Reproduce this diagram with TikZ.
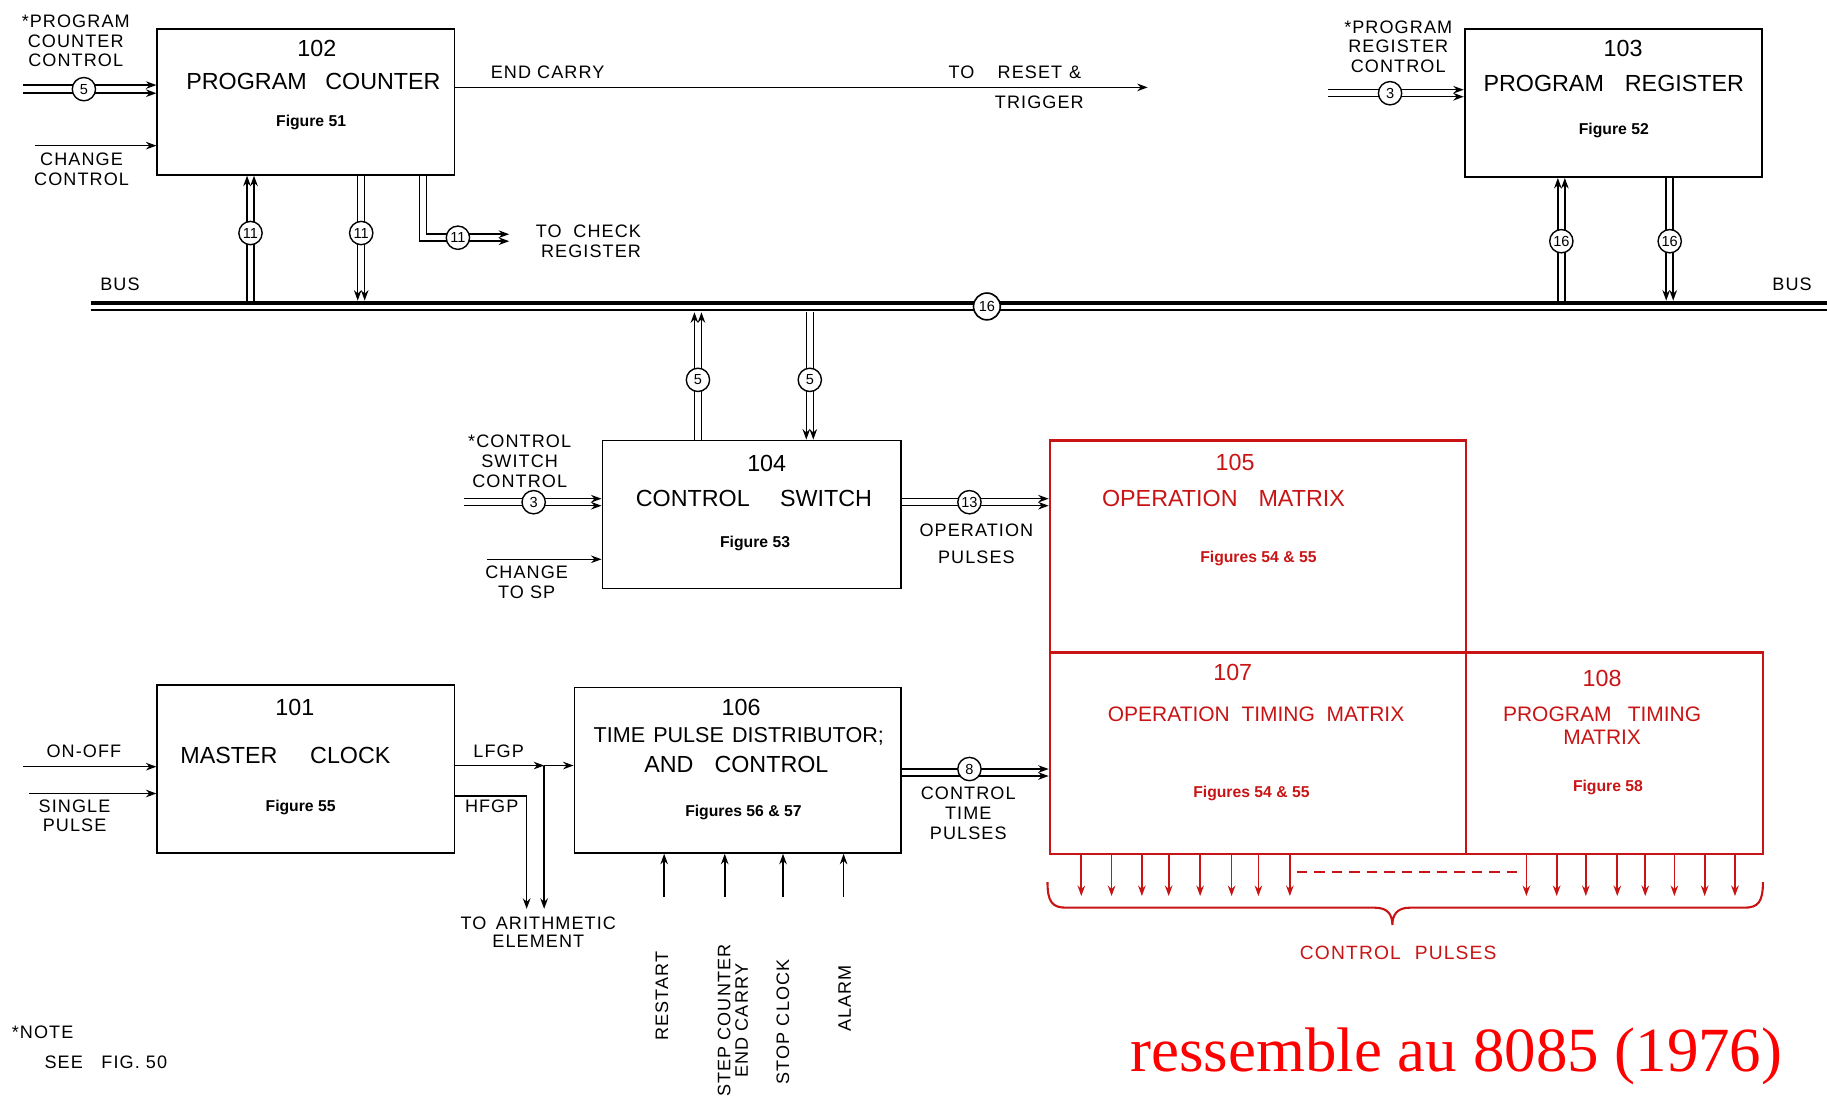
\documentclass[tikz,border=0pt]{standalone}
\usepackage{fontspec}
\setmainfont{Liberation Sans}
\newfontfamily\labfont[LetterSpace=6]{Liberation Sans}
\newfontfamily\notefont{Liberation Serif}
\usetikzlibrary{arrows.meta,calc}
\definecolor{rd}{RGB}{200,20,20}
\definecolor{pured}{RGB}{255,0,0}
\begin{document}
\begin{tikzpicture}[x=1pt,y=-1pt,
  blk/.style={draw, line width=1.5pt, inner sep=0pt},
  rblk/.style={draw=rd, line width=2pt, inner sep=0pt},
  ttl/.style={font=\fontsize{20}{23}\selectfont, inner sep=0pt, align=center},
  lab/.style={font=\labfont\fontsize{15.5}{17}\selectfont, inner sep=0pt, align=center},
  figl/.style={font=\fontsize{13.5}{15}\selectfont\bfseries, inner sep=0pt},
  num/.style={circle, draw, fill=white, line width=1.2pt, inner sep=0pt, minimum size=20pt, font=\fontsize{12.5}{12.5}\selectfont},
  wire/.style={line width=1.3pt},
  arr/.style={wire, -{Stealth[length=9pt,width=6.5pt]}},
  redarr/.style={draw=rd, line width=1.5pt, -{Stealth[length=9pt,width=6.5pt]}, fill=rd},
]
\useasboundingbox (0,0) rectangle (1568,954);

% ---------------- boxes ----------------
\node[blk, minimum width=255pt, minimum height=125pt] (b102) at (262.5,87.5) {};
\node[blk, minimum width=255pt, minimum height=127pt] (b103) at (1384.5,88.5) {};
\node[blk, minimum width=256pt, minimum height=127pt] (b104) at (645,441.5) {};
\node[rblk, minimum width=357pt, minimum height=182pt] (b105) at (1079.5,469) {};
\node[rblk, minimum width=357pt, minimum height=173pt] (b107) at (1079.5,646.5) {};
\node[rblk, minimum width=255pt, minimum height=173pt] (b108) at (1385.5,646.5) {};
\node[blk, minimum width=255pt, minimum height=144pt] (b101) at (262.5,660) {};
\node[blk, minimum width=280pt, minimum height=142pt] (b106) at (633,661) {};

% ---------------- box texts ----------------
\node[ttl] (t102a) at (272,42) {102};
\node[ttl] (t102b) at (269,70) {PROGRAM\hspace{16pt}COUNTER};
\node[figl] (t102c) at (267,105) {Figure 51};

\node[ttl] (t103a) at (1393,42) {103};
\node[ttl] (t103b) at (1385,72) {PROGRAM\hspace{18pt}REGISTER};
\node[figl] (t103c) at (1385,112) {Figure 52};

\node[ttl] (t104a) at (658,398) {104};
\node[ttl] (t104b) at (647,428) {CONTROL\hspace{26pt}SWITCH};
\node[figl] (t104c) at (648,466) {Figure 53};

\node[ttl, text=rd] (t105a) at (1060,397) {105};
\node[ttl, text=rd] (t105b) at (1050,428) {OPERATION\hspace{18pt}MATRIX};
\node[figl, text=rd] (t105c) at (1080,479) {Figures 54 \& 55};

\node[ttl, text=rd] (t107a) at (1058,577) {107};
\node[ttl, text=rd, font=\fontsize{18}{21}\selectfont] (t107b) at (1078,613) {OPERATION\hspace{10pt}TIMING\hspace{10pt}MATRIX};
\node[figl, text=rd] (t107c) at (1074,681) {Figures 54 \& 55};

\node[ttl, text=rd] (t108a) at (1375,582) {108};
\node[ttl, text=rd, font=\fontsize{18}{20}\selectfont] (t108b) at (1375,623) {PROGRAM\hspace{14pt}TIMING\\MATRIX};
\node[figl, text=rd] (t108c) at (1380,676) {Figure 58};

\node[ttl] (t101a) at (253,607) {101};
\node[ttl] (t101b) at (245,648) {MASTER\hspace{28pt}CLOCK};
\node[figl] (t101c) at (258,693) {Figure 55};

\node[ttl] (t106a) at (636,607) {106};
\node[ttl, font=\fontsize{18.5}{21}\selectfont] (t106b) at (634,632) {TIME\hspace{7pt}PULSE\hspace{7pt}DISTRIBUTOR;};
\node[ttl] (t106c) at (632,656) {AND\hspace{18pt}CONTROL};
\node[figl] (t106d) at (638,697) {Figures 56 \& 57};

% ---------------- bus ----------------
\coordinate (busL) at (78,262);
\coordinate (busR) at (1568,262);
\draw[line width=3.5pt] ($(busL)+(0,-2)$) -- ($(busR)+(0,-2)$);
\draw[line width=1.2pt] ($(busL)+(0,4)$) -- ($(busR)+(0,4)$);
\node[num, minimum size=23pt, line width=1.4pt] (n16bus) at (847,263) {16};
\node[lab] (busla) at (103,244) {BUS};
\node[lab] (buslb) at (1538,244) {BUS};

% ---------------- program counter I/O ----------------
\node[lab] (pcc) at (65,35) {*PROGRAM\\COUNTER\\CONTROL};
\coordinate (pcA) at (20,73);
\coordinate (pcB) at (20,80);
\draw[arr] (pcA) -- (pcA -| b102.west);
\draw[arr] (pcB) -- (pcB -| b102.west);
\node[num] (n5a) at (72,76.5) {5};

\node[lab] (chc) at (70,145) {CHANGE\\CONTROL};
\coordinate (ccA) at (30,125);
\draw[arr] (ccA) -- (ccA -| b102.west);

\coordinate (ecEnd) at (985,75);
\draw[arr] (ecEnd -| b102.east) -- (ecEnd);
\node[lab] (ecl) at (470,62) {END CARRY};
\node[lab] (rst) at (871,62) {TO\hspace{20pt}RESET\hspace{6pt}\&};
\node[lab] (trg) at (892,88) {TRIGGER};

% up into PC
\coordinate (k1a) at (212,258);
\coordinate (k1b) at (218,258);
\draw[arr] (k1a) -- (k1a |- b102.south);
\draw[arr] (k1b) -- (k1b |- b102.south);
\node[num] (n11a) at (215,200) {11};
% down to bus
\coordinate (k2a) at (307,258);
\coordinate (k2b) at (313,258);
\draw[arr] (k2a |- b102.south) -- (k2a);
\draw[arr] (k2b |- b102.south) -- (k2b);
\node[num] (n11b) at (310,200) {11};
% to check register
\node[lab, align=right] (tcr) at (505,207) {TO\hspace{10pt}CHECK\\REGISTER};
\coordinate (tcA) at (437,201);
\coordinate (tcB) at (437,207);
\draw[arr] (b102.south) ++(103.5,0) |- (tcA);
\draw[arr] (b102.south) ++(97.5,0) |- (tcB);
\node[num] (n11c) at (393,204) {11};

% ---------------- program register I/O ----------------
\node[lab] (prc) at (1200,40) {*PROGRAM\\REGISTER\\CONTROL};
\coordinate (prA) at (1140,77);
\coordinate (prB) at (1140,83);
\draw[arr] (prA) -- (prA -| b103.west);
\draw[arr] (prB) -- (prB -| b103.west);
\node[num] (n3a) at (1193,80) {3};

\coordinate (k3a) at (1337,258);
\coordinate (k3b) at (1343,258);
\draw[arr] (k3a) -- (k3a |- b103.south);
\draw[arr] (k3b) -- (k3b |- b103.south);
\node[num] (n16a) at (1340,207) {16};

\coordinate (k4a) at (1430,258);
\coordinate (k4b) at (1436,258);
\draw[arr] (k4a |- b103.south) -- (k4a);
\draw[arr] (k4b |- b103.south) -- (k4b);
\node[num] (n16b) at (1433,207) {16};

% ---------------- control switch I/O ----------------
\coordinate (k5a) at (596,268);
\coordinate (k5b) at (602,268);
\draw[arr] (k5a |- b104.north) -- (k5a);
\draw[arr] (k5b |- b104.north) -- (k5b);
\node[num] (n5b) at (599,326) {5};

\coordinate (k6a) at (692,268);
\coordinate (k6b) at (698,268);
\draw[arr] (k6a) -- (k6a |- b104.north);
\draw[arr] (k6b) -- (k6b |- b104.north);
\node[num] (n5c) at (695,326) {5};

\node[lab] (csc) at (446,396) {*CONTROL\\SWITCH\\CONTROL};
\coordinate (csA) at (398,428);
\coordinate (csB) at (398,434);
\draw[arr] (csA) -- (csA -| b104.west);
\draw[arr] (csB) -- (csB -| b104.west);
\node[num] (n3b) at (458,431) {3};

\node[lab] (ctsp) at (452,500) {CHANGE\\TO SP};
\coordinate (spA) at (418,480);
\draw[arr] (spA) -- (spA -| b104.west);

\coordinate (opA) at (0,428);
\coordinate (opB) at (0,434);
\draw[arr] (opA -| b104.east) -- (opA -| b105.west);
\draw[arr] (opB -| b104.east) -- (opB -| b105.west);
\node[num] (n13) at (832,431) {13};
\node[lab, font=\labfont\fontsize{15.5}{23}\selectfont] (opl) at (838,467) {OPERATION\\PULSES};

% ---------------- master clock I/O ----------------
\node[lab] (onoff) at (72,645) {ON-OFF};
\coordinate (mcA) at (20,658);
\draw[arr] (mcA) -- (mcA -| b101.west);
\node[lab, font=\labfont\fontsize{15.5}{16}\selectfont] (sp) at (64,700) {SINGLE\\PULSE};
\coordinate (mcB) at (25,681);
\draw[arr] (mcB) -- (mcB -| b101.west);

\coordinate (lj) at (467,657);
\draw[arr] (lj -| b101.east) -- (lj);
\draw[arr] (lj) -- (lj -| b106.west);
\coordinate (arA) at (467,780);
\draw[arr] (lj) -- (arA);
\coordinate (hfA) at (452,683);
\coordinate (arB) at (452,780);
\draw[wire] (hfA -| b101.east) -- (hfA);
\draw[arr] (hfA) -- (arB);
\node[lab] (lfgp) at (428,645) {LFGP};
\node[lab] (hfgp) at (422,692) {HFGP};
\node[lab, font=\labfont\fontsize{15.5}{16}\selectfont] (tae) at (462,800) {TO\hspace{8pt}ARITHMETIC\\ELEMENT};

% ---------------- time pulse distributor I/O ----------------
\foreach \xx/\nm in {570/ra,622/rb,672/rc,724/rd} {
  \coordinate (\nm) at (\xx,770);
  \draw[arr] (\nm) -- (\nm |- b106.south);
}
\node[lab, rotate=90] (lrst) at (568,855) {RESTART};
\node[lab, rotate=90, font=\labfont\fontsize{15.5}{15}\selectfont] (lstep) at (629,876) {STEP COUNTER\\END CARRY};
\node[lab, rotate=90] (lstop) at (672,877) {STOP CLOCK};
\node[lab, rotate=90] (lalm) at (725,857) {ALARM};

\coordinate (ctA) at (0,660);
\coordinate (ctB) at (0,666);
\draw[arr] (ctA -| b106.east) -- (ctA -| b107.west);
\draw[arr] (ctB -| b106.east) -- (ctB -| b107.west);
\node[num] (n8) at (832,660) {8};
\node[lab] (ctp) at (831,698) {CONTROL\\TIME\\PULSES};

% ---------------- control pulses ----------------
\foreach \xx in {928,954,980,1003,1030,1057,1080,1107} {
  \draw[redarr] (b107.south) ++({\xx-1079.5},0) -- ++(0,35);
}
\foreach \xx in {1310,1336,1361,1388,1412,1437,1463,1489} {
  \draw[redarr] (b108.south) ++({\xx-1385.5},0) -- ++(0,35);
}
\draw[rd, line width=1.6pt, dash pattern=on 9pt off 6pt] (1113,748) -- (1305,748);
\draw[rd, line width=1.8pt] (899,757) .. controls (899,774) and (903,779) .. (915,779)
  -- (1180,779) .. controls (1191,779) and (1195,785) .. (1195,794)
  .. controls (1195,785) and (1199,779) .. (1210,779)
  -- (1497,779) .. controls (1509,779) and (1513,774) .. (1513,757);
\node[lab, text=rd, font=\labfont\fontsize{16.5}{18}\selectfont] (cpl) at (1200,818) {CONTROL\hspace{12pt}PULSES};

% ---------------- notes ----------------
\node[lab, anchor=west] (note1) at (10,886) {*NOTE};
\node[lab, anchor=west] (note2) at (38,912) {SEE\hspace{16pt}FIG. 50};

\node[text=pured, inner sep=0pt, font=\notefont\fontsize{54}{60}\selectfont] (cmt) at (1250,907) {ressemble au 8085 (1976)};
\end{tikzpicture}
\end{document}
